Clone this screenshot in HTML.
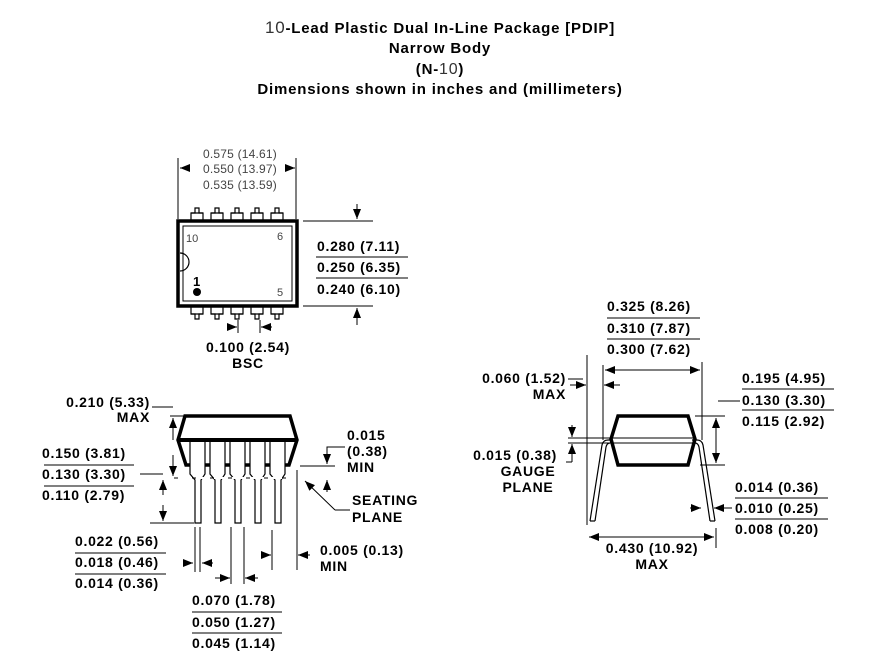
<!DOCTYPE html>
<html><head><meta charset="utf-8"><style>
html,body{margin:0;padding:0;background:#fff}
svg{display:block}
text{font-family:"Liberation Sans",Arial,sans-serif;fill:#000}
.d{font-size:14px;font-weight:bold;letter-spacing:0.7px}
.t{font-size:15px;font-weight:bold;letter-spacing:0.8px}
</style></head><body>
<svg width="882" height="661" viewBox="0 0 882 661" xmlns="http://www.w3.org/2000/svg">
<defs>
<marker id="a" markerWidth="10" markerHeight="8" refX="10" refY="4" orient="auto" markerUnits="userSpaceOnUse"><path d="M0,0 L10,4 L0,8 z" fill="#000"/></marker>
</defs>
<g text-anchor="middle" class="t">
<text x="440" y="33"><tspan font-size="17" font-weight="normal" fill="#333">10</tspan>-Lead Plastic Dual In-Line Package [PDIP]</text>
<text x="440" y="53">Narrow Body</text>
<text x="440" y="74">(N-<tspan font-size="16" font-weight="normal" fill="#333">10</tspan>)</text>
<text x="440" y="94">Dimensions shown in inches and (millimeters)</text>
</g>

<!-- TOP VIEW -->
<g stroke="#000" fill="none">
<g stroke-width="1.2">
<path d="M191,221v-8h4v-5h4v5h4v8M211,221v-8h4v-5h4v5h4v8M231,221v-8h4v-5h4v5h4v8M251,221v-8h4v-5h4v5h4v8M271,221v-8h4v-5h4v5h4v8"/>
<path d="M191,306v8h4v5h4v-5h4v-8M211,306v8h4v5h4v-5h4v-8M231,306v8h4v5h4v-5h4v-8M251,306v8h4v5h4v-5h4v-8M271,306v8h4v5h4v-5h4v-8"/>
<path d="M191,213h12M211,213h12M231,213h12M251,213h12M271,213h12M191,314h12M211,314h12M231,314h12M251,314h12M271,314h12"/>
</g>
<rect x="178" y="221" width="119" height="85" stroke-width="3.5"/>
<rect x="183" y="226" width="109" height="75" stroke-width="1"/>
<path d="M180,253 A9,9 0 0 1 180,271" stroke-width="1.2"/>
<g stroke-width="1">
<path d="M178,158V219M296,158V219"/>
<path d="M303,221H373M303,306H373"/>
<path d="M357,204V219" marker-end="url(#a)"/>
<path d="M357,325V308" marker-end="url(#a)"/>
<path d="M238,320V333M260,320V333"/>
<path d="M228,327H237" marker-end="url(#a)"/>
<path d="M272,327H261" marker-end="url(#a)"/>
<path d="M190,168H180" marker-end="url(#a)"/>
<path d="M285,168H295" marker-end="url(#a)"/>
</g>
</g>
<circle cx="197" cy="292" r="4" fill="#000"/>
<g font-size="11">
<text x="186" y="242" style="fill:#444">10</text>
<text x="277" y="240" style="fill:#444">6</text>
<text x="277" y="296" style="fill:#444">5</text>
</g>
<text x="193" y="286" font-size="13" font-weight="bold">1</text>
<g font-size="12" text-anchor="middle" letter-spacing="0.2">
<text x="240" y="158" style="fill:#444">0.575 (14.61)</text>
<text x="240" y="173" style="fill:#444">0.550 (13.97)</text>
<text x="240" y="189" style="fill:#444">0.535 (13.59)</text>
</g>
<g class="d">
<text x="317" y="251">0.280 (7.11)</text>
<text x="317" y="272">0.250 (6.35)</text>
<text x="317" y="294">0.240 (6.10)</text>
<text x="248" y="352" text-anchor="middle">0.100 (2.54)</text>
<text x="248" y="368" text-anchor="middle">BSC</text>
</g>
<path d="M316,257H408M316,278H408" stroke="#000" stroke-width="1"/>

<!-- SIDE VIEW -->
<g stroke="#000" fill="none">
<path d="M185,416H290L297,440L289,465H186L178,440Z" stroke-width="3.5"/>
<g stroke-width="1.2" fill="#fff">
<path d="M190,441V474L195,480V523H201V480L205,474V441Z"/>
<path d="M210,441V474L215,480V523H221V480L225,474V441Z"/>
<path d="M230,441V474L235,480V523H241V480L245,474V441Z"/>
<path d="M250,441V474L255,480V523H261V480L265,474V441Z"/>
<path d="M270,441V474L275,480V523H281V480L285,474V441Z"/>
</g>
<path d="M178,440H297" stroke-width="4" stroke="#000"/>
<g stroke-width="1">
<path d="M170,416H185M160,478H300" />
<path d="M160,478H300" stroke-dasharray="14,4" stroke="#fff" stroke-width="2"/>
<path d="M150,523H194"/>
<path d="M173,440V418" marker-end="url(#a)"/>
<path d="M173,455V476" marker-end="url(#a)"/>
<path d="M163,495V480" marker-end="url(#a)"/>
<path d="M163,505V521" marker-end="url(#a)"/>
<path d="M152,407H173M140,474H163"/>
<path d="M300,466H335"/>
<path d="M327,452V464" marker-end="url(#a)"/>
<path d="M327,492V480" marker-end="url(#a)"/>
<path d="M327,452V447H345"/>
<path d="M335,510L305,481" marker-end="url(#a)"/>
<path d="M335,510H350"/>
<path d="M195,527V572M200,527V572"/>
<path d="M183,563H193" marker-end="url(#a)"/>
<path d="M213,563H202" marker-end="url(#a)"/>
<path d="M272,530V570M297,470V570"/>
<path d="M262,555H271" marker-end="url(#a)"/>
<path d="M310,555H298" marker-end="url(#a)"/>
<path d="M231,527V584M244,527V584"/>
<path d="M215,578H230" marker-end="url(#a)"/>
<path d="M258,578H245" marker-end="url(#a)"/>
<path d="M44,465H134M44,486H134M75,553H166M75,574H166M192,612H282M192,633H282"/>
</g>
</g>
<g class="d">
<text x="150" y="407" text-anchor="end">0.210 (5.33)</text>
<text x="150" y="422" text-anchor="end">MAX</text>
<text x="42" y="458">0.150 (3.81)</text>
<text x="42" y="479">0.130 (3.30)</text>
<text x="42" y="500">0.110 (2.79)</text>
<text x="347" y="440">0.015</text>
<text x="347" y="456">(0.38)</text>
<text x="347" y="472">MIN</text>
<text x="352" y="505">SEATING</text>
<text x="352" y="522">PLANE</text>
<text x="75" y="546">0.022 (0.56)</text>
<text x="75" y="567">0.018 (0.46)</text>
<text x="75" y="588">0.014 (0.36)</text>
<text x="320" y="555">0.005 (0.13)</text>
<text x="320" y="571">MIN</text>
<text x="192" y="605">0.070 (1.78)</text>
<text x="192" y="627">0.050 (1.27)</text>
<text x="192" y="648">0.045 (1.14)</text>
</g>

<!-- END VIEW -->
<g stroke="#000" fill="none">
<g stroke-width="1.2">
<path d="M590,521L602,445Q603,440 608,440H613M595,521L606,447Q607,443 610,443"/>
<path d="M590,521H595"/>
<path d="M715,521L703,445Q702,440 697,440H692M710,521L699,447Q698,443 695,443"/>
<path d="M710,521H715"/>
</g>
<path d="M618,416H688L695,439L688,465H618L611,439Z" stroke-width="3.5"/>
<g stroke-width="1">
<path d="M568,438H696M568,443H696"/>
<path d="M587,355V525M603,365V440M702,362V440M716,528V548"/>
<path d="M652,370H605" marker-end="url(#a)"/>
<path d="M652,370H700" marker-end="url(#a)"/>
<path d="M570,385H586" marker-end="url(#a)"/>
<path d="M620,385H604" marker-end="url(#a)"/>
<path d="M572,425V437" marker-end="url(#a)"/>
<path d="M572,462V444" marker-end="url(#a)"/>
<path d="M572,462H566"/>
<path d="M695,416H725M700,465H725"/>
<path d="M716,440V418" marker-end="url(#a)"/>
<path d="M716,440V463" marker-end="url(#a)"/>
<path d="M718,401H740"/>
<path d="M652,537H589" marker-end="url(#a)"/>
<path d="M652,537H714" marker-end="url(#a)"/>
<path d="M690,508H701" marker-end="url(#a)"/>
<path d="M732,508H714" marker-end="url(#a)"/>
<path d="M568,379H583"/>
<path d="M607,318H700M607,339H700M742,389H834M742,410H834M735,498H828M735,519H828"/>
</g>
</g>
<g class="d">
<text x="607" y="311">0.325 (8.26)</text>
<text x="607" y="333">0.310 (7.87)</text>
<text x="607" y="354">0.300 (7.62)</text>
<text x="566" y="383" text-anchor="end">0.060 (1.52)</text>
<text x="566" y="399" text-anchor="end">MAX</text>
<text x="742" y="383">0.195 (4.95)</text>
<text x="742" y="405">0.130 (3.30)</text>
<text x="742" y="426">0.115 (2.92)</text>
<text x="557" y="460" text-anchor="end">0.015 (0.38)</text>
<text x="528" y="476" text-anchor="middle">GAUGE</text>
<text x="528" y="492" text-anchor="middle">PLANE</text>
<text x="735" y="492">0.014 (0.36)</text>
<text x="735" y="513">0.010 (0.25)</text>
<text x="735" y="534">0.008 (0.20)</text>
<text x="652" y="553" text-anchor="middle">0.430 (10.92)</text>
<text x="652" y="569" text-anchor="middle">MAX</text>
</g>
</svg>
</body></html>
